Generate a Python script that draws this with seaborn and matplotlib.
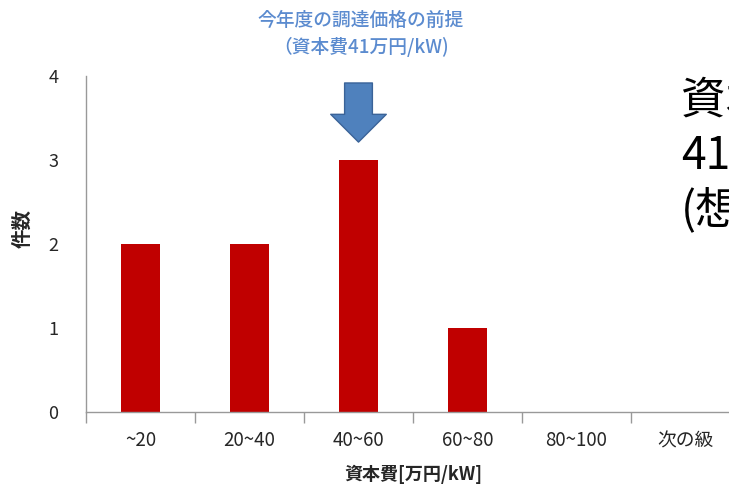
import matplotlib
matplotlib.use("Agg")
import matplotlib.pyplot as plt
import seaborn as sns
import pandas as pd
import numpy as np

categories = ["~20", "20~40", "40~60", "60~80", "80~100", "次の級"]
counts = [2, 2, 3, 1, 0, 0]
y_ticks = [0, 1, 2, 3, 4]

sns.set_style("white")
plt.rcParams['font.family'] = ['Noto Sans CJK JP', 'DejaVu Sans']

fig = plt.figure(figsize=(7.29, 4.95), dpi=100)
ax = fig.add_axes([86/729, 1-412/495, 654/729, 336/495])

df = pd.DataFrame({"cat": categories, "n": counts})
sns.barplot(data=df, x="cat", y="n", color="#C00000", width=0.35, ax=ax,
            saturation=1, edgecolor="none")

ax.set_xlim(-0.5, len(categories) - 0.5)
ax.set_ylim(0, 4)
ax.set_yticks(y_ticks)
ax.set_yticklabels([str(v) for v in y_ticks], fontsize=13)

ax.set_xticks(range(len(categories)))
ax.set_xticklabels(categories, fontsize=13.5)
ax.tick_params(axis='x', which='major', length=0, pad=13)
ax.set_xticks(np.arange(-0.5, len(categories), 1), minor=True)
ax.tick_params(axis='x', which='minor', length=8, width=1, color="#999999", direction='out', bottom=True)
ax.tick_params(axis='y', which='major', length=6, width=1, color="#999999", direction='out', pad=14)

for s in ["top", "right"]:
    ax.spines[s].set_visible(False)
for s in ["left", "bottom"]:
    ax.spines[s].set_color("#999999")
    ax.spines[s].set_linewidth(1)

ax.set_xlabel("資本費[万円/kW]", fontsize=13, fontweight="bold", labelpad=10)
ax.set_ylabel("件数", fontsize=14, fontweight="bold")
ax.yaxis.set_label_coords(-0.082, 0.545)

# annotation
fig.text(361/729, 1-20/495, "今年度の調達価格の前提", ha="center", va="center",
         fontsize=13.5, color="#5B8BCF", fontweight="medium")
fig.text(361/729, 1-47/495, "（資本費41万円/kW)", ha="center", va="center",
         fontsize=13.5, color="#5B8BCF", fontweight="medium")
ax.annotate("", xy=(2, 3.18), xytext=(2, 3.95),
            arrowprops=dict(arrowstyle="simple,head_length=1.0,head_width=2.0,tail_width=1.0",
                            mutation_scale=20, fc="#4F81BD", ec="#3A6398", lw=1),
            annotation_clip=False)

fig.text(681/729, 1-156/495, "資本費\n41万円/kW\n(想定値)", ha="left", va="center",
         fontsize=32, color="black", linespacing=1.25)

fig.savefig("out.png", dpi=100)
